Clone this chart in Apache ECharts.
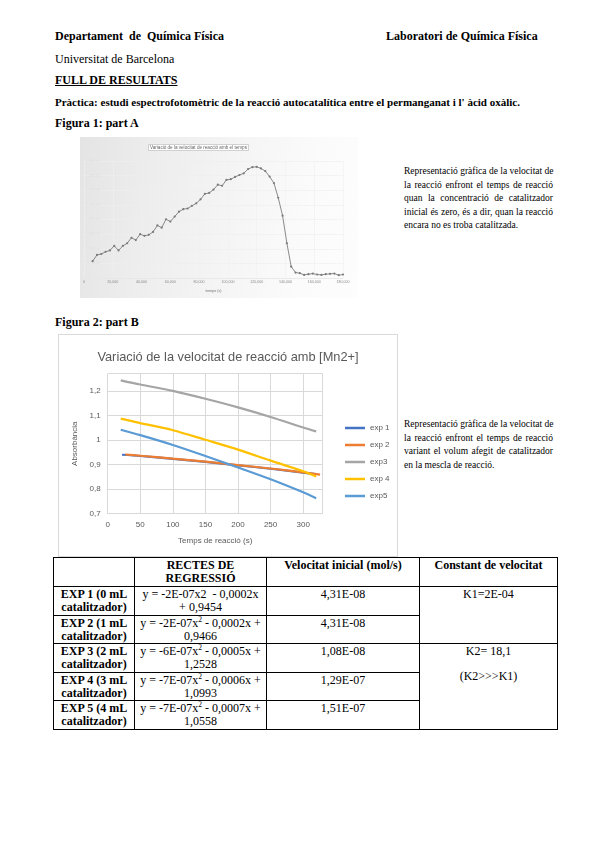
<!DOCTYPE html>
<html>
<head>
<meta charset="utf-8">
<script src="https://cdn.jsdelivr.net/npm/echarts@6/dist/echarts.min.js"></script>
<style>
  html, body { margin:0; padding:0; background:#fff; }
  #page { position:relative; width:600px; height:848px; font-family:'Liberation Serif','Times New Roman',serif; color:#000; }
  .t { position:absolute; white-space:nowrap; line-height:13px; }
  .b { font-weight:bold; }
  .para { position:absolute; left:404px; width:149px; font-size:9.5px; line-height:13.5px; }
  .para div { text-align:justify; text-align-last:justify; white-space:nowrap; }
  .para div.last { text-align-last:left; }
  #fig1 { position:absolute; left:80px; top:137px; width:278px; height:161px;
          background:linear-gradient(100deg,#e4e4e4 0%,#ededed 25%,#f5f5f5 55%,#fbfbfb 80%,#fdfdfd 100%); }
  #fig2 { position:absolute; left:58px; top:334px; width:338px; height:221px; border:1px solid #d9d9d9; background:#fff; }
  table { position:absolute; left:53px; top:557px; border-collapse:collapse; font-size:12px; line-height:12.5px; table-layout:fixed; }
  td { border:1px solid #000; vertical-align:top; padding:1px 2px 0 2px; text-align:center; overflow:hidden; white-space:nowrap; }
  td.h { font-weight:bold; }
  td.c1 { font-weight:bold; }
  sup { font-size:7.5px; line-height:0; vertical-align:5px; }
</style>
</head>
<body>
<div id="page">
  <div class="t b" style="left:55px; top:30px; font-size:12px;">Departament&nbsp; de&nbsp; Química Física</div>
  <div class="t b" style="left:386px; top:30px; font-size:12px;">Laboratori de Química Física</div>
  <div class="t" style="left:55px; top:53px; font-size:12px;">Universitat de Barcelona</div>
  <div class="t b" style="left:55px; top:74px; font-size:12px; text-decoration:underline;">FULL DE RESULTATS</div>
  <div class="t b" style="left:55px; top:96px; font-size:11px;">Pràctica: estudi espectrofotomètric de la reacció autocatalítica entre el permanganat i l' àcid oxàlic.</div>
  <div class="t b" style="left:55px; top:117px; font-size:12px;">Figura 1: part A</div>

  <div id="fig1"></div>

  <div class="para" style="top:165px;">
    <div>Representació gràfica de la velocitat de</div>
    <div>la reacció enfront el temps de reacció</div>
    <div>quan la concentració de catalitzador</div>
    <div>inicial és zero, és a dir, quan la reacció</div>
    <div class="last">encara no es troba catalitzada.</div>
  </div>

  <div class="t b" style="left:55px; top:316px; font-size:12px;">Figura 2: part B</div>

  <div id="fig2"></div>

  <div class="para" style="top:418px;">
    <div>Representació gràfica de la velocitat de</div>
    <div>la reacció enfront el temps de reacció</div>
    <div>variant el volum afegit de catalitzador</div>
    <div class="last">en la mescla de reacció.</div>
  </div>

  <table>
    <colgroup><col style="width:81px"><col style="width:132px"><col style="width:153px"><col style="width:138px"></colgroup>
    <tr style="height:29px">
      <td></td>
      <td class="h">RECTES DE<br>REGRESSIÓ</td>
      <td class="h">Velocitat inicial (mol/s)</td>
      <td class="h">Constant de velocitat</td>
    </tr>
    <tr style="height:29px">
      <td class="c1">EXP 1 (0 mL<br>catalitzador)</td>
      <td>y = -2E-07x2&nbsp; - 0,0002x<br>+ 0,9454</td>
      <td>4,31E-08</td>
      <td rowspan="2">K1=2E-04</td>
    </tr>
    <tr style="height:28px">
      <td class="c1">EXP 2 (1 mL<br>catalitzador)</td>
      <td>y = -2E-07x<sup>2</sup> - 0,0002x +<br>0,9466</td>
      <td>4,31E-08</td>
    </tr>
    <tr style="height:29px">
      <td class="c1">EXP 3 (2 mL<br>catalitzador)</td>
      <td>y = -6E-07x<sup>2</sup> - 0,0005x +<br>1,2528</td>
      <td>1,08E-08</td>
      <td rowspan="3">K2= 18,1<br><br>(K2&gt;&gt;&gt;K1)</td>
    </tr>
    <tr style="height:28px">
      <td class="c1">EXP 4 (3 mL<br>catalitzador)</td>
      <td>y = -7E-07x<sup>2</sup> - 0,0006x +<br>1,0993</td>
      <td>1,29E-07</td>
    </tr>
    <tr style="height:29px">
      <td class="c1">EXP 5 (4 mL<br>catalitzador)</td>
      <td>y = -7E-07x<sup>2</sup> - 0,0007x +<br>1,0558</td>
      <td>1,51E-07</td>
    </tr>
  </table>
</div>

<script>
// ---------- Figure 1 data (velocitat vs temps) ----------
const fig1Time = [6000, 9000, 12000, 15000, 18000, 21000, 24000, 27000, 30000, 33000,
  36000, 39000, 42000, 45000, 48000, 51000, 54000, 57000, 60000, 63000,
  66000, 69000, 72000, 75000, 78000, 81000, 84000, 87000, 90000, 93000,
  96000, 99000, 102000, 105000, 108000, 111000, 114000, 117000, 120000, 123000,
  126000, 129000, 132000, 135000, 138000, 141000, 144000, 147000, 150000, 153000,
  156000, 159000, 162000, 165000, 168000, 171000, 174000, 177000, 180000];
// velocity in units of 1E-07
const fig1Vel = [2.31, 3.16, 3.29, 3.60, 3.78, 4.40, 3.78, 4.40, 4.76, 5.51,
  5.20, 6.00, 5.78, 5.91, 6.31, 7.20, 6.89, 8.04, 7.73, 8.40,
  9.07, 9.42, 9.51, 9.87, 10.22, 10.76, 11.51, 11.64, 12.09, 12.76,
  12.62, 13.42, 13.51, 13.82, 14.09, 14.31, 14.89, 15.16, 15.20, 14.98,
  14.62, 13.87, 12.98, 10.98, 8.53, 4.76, 1.56, 0.76, 0.67, 0.44,
  0.53, 0.62, 0.49, 0.44, 0.53, 0.58, 0.62, 0.40, 0.49];
const fig1Title = 'Variació de la velocitat de reacció amb el temps';

// ---------- Figure 2 data ----------
const fig2Title = 'Variació de la velocitat de reacció amb [Mn2+]';
const seriesNames = ['exp 1', 'exp 2', 'exp3', 'exp 4', 'exp5'];
const exp1X = [22, 50, 100, 150, 200, 250, 300, 320];
const exp1Y = [0.940, 0.935, 0.923, 0.911, 0.897, 0.883, 0.867, 0.861];
const exp2X = [27, 50, 100, 150, 200, 250, 300, 326];
const exp2Y = [0.941, 0.936, 0.924, 0.912, 0.898, 0.884, 0.868, 0.859];
const exp3X = [20, 50, 100, 150, 200, 250, 300, 320];
const exp3Y = [1.243, 1.226, 1.200, 1.168, 1.133, 1.094, 1.051, 1.035];
const exp4X = [20, 50, 100, 150, 200, 250, 300, 320];
const exp4Y = [1.087, 1.069, 1.040, 1.001, 0.961, 0.916, 0.873, 0.851];
const exp5X = [20, 50, 100, 150, 200, 250, 300, 320];
const exp5Y = [1.042, 1.020, 0.980, 0.935, 0.888, 0.840, 0.787, 0.763];
const seriesColors = ['#4472C4', '#ED7D31', '#A5A5A5', '#FFC000', '#5B9BD5'];

function pairs(xs, ys) { return xs.map((x, i) => [x, ys[i]]); }

// ---------- Figure 1 chart ----------
const c1 = echarts.init(document.getElementById('fig1'), null, { renderer: 'canvas' });
c1.setOption({
  animation: false,
  title: {
    text: fig1Title, left: 68, top: 7,
    padding: [1, 2], borderColor: '#b5b5b5', borderWidth: 0.6, backgroundColor: '#fff',
    textStyle: { fontFamily: 'Liberation Sans', fontSize: 4.6, fontWeight: 'normal', color: '#666' }
  },
  grid: { left: 3, right: 15, top: 24, bottom: 19 },
  xAxis: {
    type: 'value', min: 0, max: 180000, interval: 20000,
    name: 'tiempo (s)', nameLocation: 'middle', nameGap: 8,
    nameTextStyle: { fontFamily: 'Liberation Sans', fontSize: 3.6, color: '#777' },
    axisLine: { lineStyle: { color: '#e2e2e2', width: 0.6 } },
    axisTick: { show: false },
    axisLabel: { fontFamily: 'Liberation Sans', fontSize: 3.6, color: '#8a8a8a', margin: 2 },
    splitLine: { show: true, lineStyle: { color: '#f0f0f0', width: 0.6 } }
  },
  yAxis: {
    type: 'value', min: 0, max: 16, interval: 2,
    axisLine: { show: false }, axisTick: { show: false },
    axisLabel: { inside: true, fontFamily: 'Liberation Sans', fontSize: 3.2, color: '#dedede', margin: 3,
      formatter: v => v === 0 ? '' : (v / 10).toFixed(2).replace('.', ',') + 'E-06' },
    splitLine: { show: true, lineStyle: { color: '#efefef', width: 0.6 } }
  },
  series: [{
    type: 'line', data: pairs(fig1Time, fig1Vel),
    symbol: 'circle', symbolSize: 2.2,
    lineStyle: { color: '#6d6d6d', width: 0.8 },
    itemStyle: { color: '#7a7a7a' }
  }]
});

// ---------- Figure 2 chart ----------
const c2 = echarts.init(document.getElementById('fig2'), null, { renderer: 'canvas' });
const allX = [exp1X, exp2X, exp3X, exp4X, exp5X];
const allY = [exp1Y, exp2Y, exp3Y, exp4Y, exp5Y];
c2.setOption({
  animation: false,
  title: {
    text: fig2Title, left: 'center', top: 11,
    textStyle: { fontFamily: 'Liberation Sans', fontSize: 12.8, fontWeight: 'normal', color: '#595959' }
  },
  legend: {
    orient: 'vertical', left: 281, top: 83,
    icon: 'rect', itemWidth: 20, itemHeight: 2.5, itemGap: 7,
    textStyle: { fontFamily: 'Liberation Sans', fontSize: 8, color: '#595959', lineHeight: 10 },
    data: seriesNames
  },
  grid: { left: 48.7, right: 74.3, top: 38.7, bottom: 42.3 },
  xAxis: {
    type: 'value', min: 0, max: 330, interval: 50,
    name: 'Temps de reacció (s)', nameLocation: 'middle', nameGap: 23,
    nameTextStyle: { fontFamily: 'Liberation Sans', fontSize: 8, color: '#595959' },
    axisLine: { show: true, lineStyle: { color: '#d9d9d9' } },
    axisTick: { show: false },
    axisLabel: { fontFamily: 'Liberation Sans', fontSize: 8, color: '#595959', margin: 7,
      formatter: v => v > 300 ? '' : String(v) },
    splitLine: { show: true, lineStyle: { color: '#d9d9d9' } }
  },
  yAxis: {
    type: 'value', min: 0.7, max: 1.27, interval: 0.1,
    name: 'Absorbància', nameLocation: 'middle', nameGap: 26,
    nameTextStyle: { fontFamily: 'Liberation Sans', fontSize: 8, color: '#595959' },
    axisLine: { show: false }, axisTick: { show: false },
    axisLabel: { fontFamily: 'Liberation Sans', fontSize: 8, color: '#595959', margin: 7,
      formatter: v => v > 1.25 ? '' : String(Math.round(v * 10) / 10).replace('.', ',') },
    splitLine: { show: true, lineStyle: { color: '#d9d9d9' } }
  },
  series: seriesNames.map((n, i) => ({
    name: n, type: 'line', data: pairs(allX[i], allY[i]),
    symbol: 'none', smooth: 0.3,
    lineStyle: { color: seriesColors[i], width: 2.2 },
    itemStyle: { color: seriesColors[i] }
  }))
});
</script>
</body>
</html>
